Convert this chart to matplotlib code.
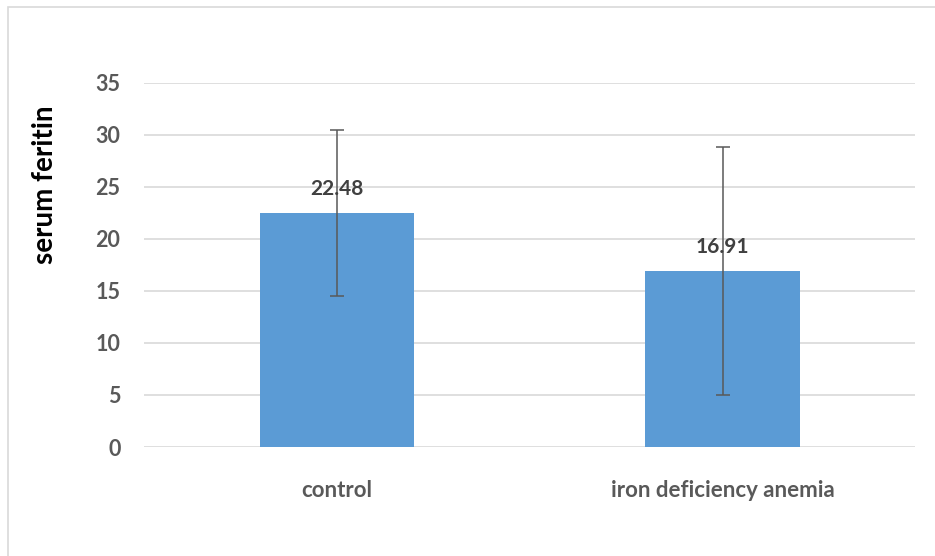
import matplotlib.pyplot as plt
from matplotlib.patches import Rectangle

categories = ["control", "iron deficiency anemia"]
means = [22.48, 16.91]
errors = [8.0, 11.9]
y_ticks = [0, 5, 10, 15, 20, 25, 30, 35]

plt.rcParams['font.family'] = ['Lato', 'DejaVu Sans']

fig = plt.figure(figsize=(9.35, 5.56), dpi=100)
# chart frame (left/top edges visible)
fig.patches.append(Rectangle((8 / 935, -0.05), 1.1, 1 - 7 / 556 + 0.05,
                             transform=fig.transFigure, fill=False,
                             edgecolor="#d9d9d9", linewidth=1.2))
ax = fig.add_axes([0.154, 0.196, 0.825, 0.655])

x = range(len(categories))
ax.bar(x, means, width=0.40, color="#5b9bd5", zorder=2)
ax.errorbar(x, means, yerr=errors, fmt="none", ecolor="#595959",
            elinewidth=1.1, capsize=5, capthick=1.1, zorder=3)
for xi, m in zip(x, means):
    ax.annotate(f"{m:.2f}", (xi, m), xytext=(0, 10), textcoords="offset points",
                ha="center", va="bottom", fontsize=15, fontweight="bold",
                color="#404040", zorder=4)

ax.set_xlim(-0.5, 1.5)
ax.set_ylim(0, 35)
ax.set_yticks(y_ticks)
ax.set_xticks(list(x))
ax.set_xticklabels(categories)
ax.grid(axis="y", color="#d9d9d9", linewidth=1.2, zorder=0)
ax.set_axisbelow(True)
for s in ax.spines.values():
    s.set_visible(False)
ax.tick_params(length=0, labelcolor="#595959")
ax.tick_params(axis="x", pad=24, labelsize=16)
ax.tick_params(axis="y", pad=17, labelsize=15.5)
for lbl in ax.get_xticklabels() + ax.get_yticklabels():
    lbl.set_fontweight("bold")
ax.set_ylabel("serum feritin", fontsize=20, fontweight="bold", color="black",
              va="center")
ax.yaxis.set_label_coords(-0.128, 0.72)

fig.savefig("out.png", dpi=100)
